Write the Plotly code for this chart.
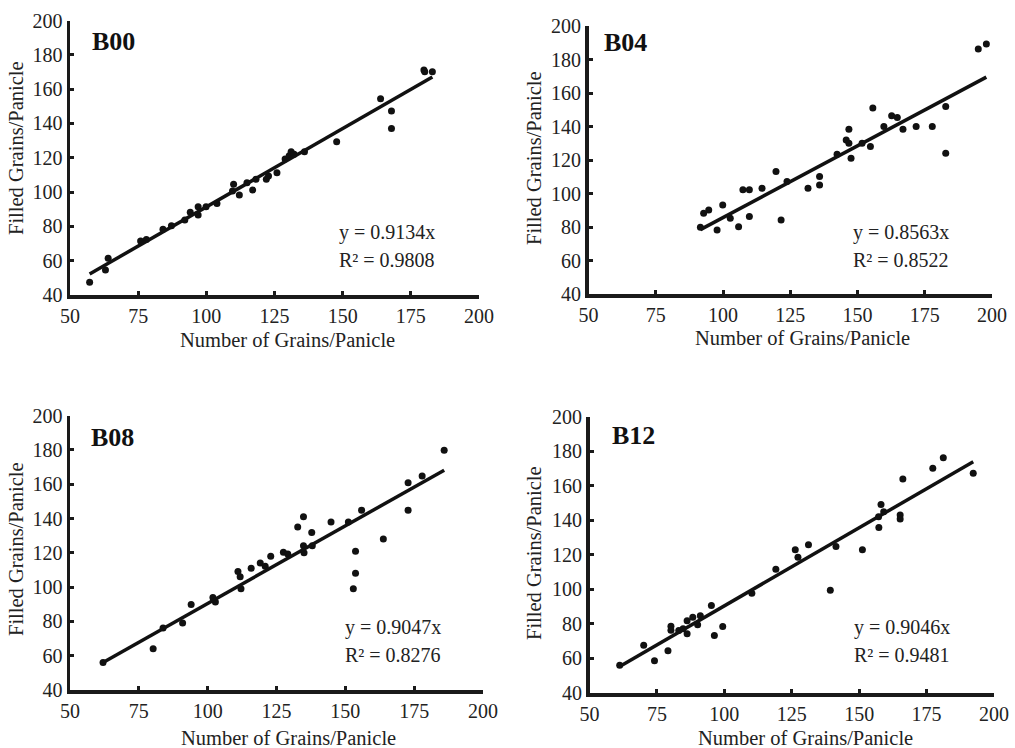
import plotly.graph_objects as go

# ---------------- data ----------------
b00_x = [57.2, 63.0, 64.0, 75.9, 78.0, 84.1, 87.2, 92.1, 94.1, 97.0, 97.0, 99.9, 103.9,
         109.6, 110.0, 112.1, 114.9, 117.0, 118.2, 122.0, 122.8, 125.9, 128.9, 130.4,
         131.1, 132.2, 136.0, 147.8, 163.9, 167.9, 167.9, 179.8, 180.1, 182.9]
b00_y = [47.4, 54.6, 61.4, 71.5, 72.4, 78.3, 80.4, 83.7, 88.3, 91.5, 86.6, 91.5, 93.4,
         100.6, 104.5, 98.3, 105.4, 101.2, 107.4, 107.4, 109.3, 111.3, 119.2, 121.2,
         123.5, 122.1, 123.5, 129.3, 154.4, 147.2, 137.1, 171.1, 170.1, 170.1]

b04_x = [91.6, 92.8, 94.7, 97.8, 99.9, 102.7, 105.8, 107.4, 109.8, 109.8, 114.5, 119.7,
         121.6, 123.8, 131.6, 135.9, 135.9, 142.4, 145.8, 146.8, 146.8, 147.6, 151.7,
         154.8, 155.7, 159.8, 162.7, 164.8, 166.9, 171.8, 177.8, 182.8, 182.8, 194.9, 197.9]
b04_y = [79.8, 88.2, 90.2, 78.2, 93.2, 85.2, 80.2, 102.2, 102.2, 86.2, 103.1, 113.1,
         84.2, 107.1, 103.1, 110.1, 105.1, 123.5, 132.0, 138.4, 130.0, 121.1, 130.0,
         128.0, 151.0, 140.0, 146.4, 145.4, 138.4, 140.0, 140.0, 152.0, 124.1, 186.2, 189.2]

b08_x = [62.0, 80.2, 83.8, 90.9, 94.0, 101.9, 102.8, 111.0, 111.8, 112.1, 115.8, 119.1,
         120.9, 122.9, 127.5, 129.1, 132.7, 134.8, 134.8, 135.0, 137.8, 138.0, 144.8,
         151.1, 152.9, 153.7, 153.7, 155.9, 163.8, 172.8, 172.8, 177.9, 185.9]
b08_y = [56.1, 64.0, 76.2, 79.1, 89.9, 94.0, 91.3, 109.1, 106.0, 99.0, 111.0, 114.1,
         112.1, 118.0, 120.3, 119.3, 135.0, 141.0, 124.1, 120.1, 131.9, 124.1, 137.9,
         137.9, 99.0, 108.1, 120.9, 144.8, 128.0, 160.9, 144.8, 164.8, 179.8]

b12_x = [61.2, 70.1, 74.1, 79.1, 80.2, 80.2, 83.1, 84.7, 86.2, 86.2, 88.3, 90.1, 91.1,
         95.2, 96.3, 99.4, 110.2, 119.1, 126.3, 127.3, 131.2, 139.3, 141.4, 151.2,
         157.2, 157.3, 158.1, 159.1, 165.2, 165.2, 166.2, 177.3, 181.2, 192.3]
b12_y = [56.0, 67.6, 58.7, 64.5, 78.7, 76.4, 76.2, 77.2, 81.8, 74.3, 83.9, 79.5, 84.7,
         90.7, 73.3, 78.5, 97.8, 111.7, 122.9, 118.6, 125.9, 99.5, 124.8, 122.9,
         142.1, 135.8, 149.1, 145.0, 143.1, 140.8, 163.9, 170.1, 176.2, 167.2]

panel_names = ["B00", "B04", "B08", "B12"]
slopes = [0.9134, 0.8563, 0.9047, 0.9046]
r2_values = ["0.9808", "0.8522", "0.8276", "0.9481"]
x_ticks = [50, 75, 100, 125, 150, 175, 200]
y_ticks = [40, 60, 80, 100, 120, 140, 160, 180, 200]
x_title = "Number of Grains/Panicle"
y_title = "Filled Grains/Panicle"

series = [(b00_x, b00_y), (b04_x, b04_y), (b08_x, b08_y), (b12_x, b12_y)]

# ---------------- layout geometry (pixels) ----------------
W, H = 1015, 748
# (x_left, x_right, y_top(200), y_bottom(40)) in pixels
boxes = [(70, 479, 20.5, 295), (588.5, 992, 26, 294), (70, 483, 415.6, 690), (589.5, 994, 416.7, 693)]
title_pos = [(57.3, 187.7), (55.2, 189.9), (56.9, 187.0), (57.5, 189.4)]
eq_pos = [(184.5, 76.6, 60.3), (184.9, 77.0, 60.3), (185.5, 76.7, 60.4), (184.5, 78.2, 62.0)]
ytitle_px = [(16, 148), (534, 158), (16, 549), (534, 553)]
xtitle_px = [(287, 340), (802, 338), (288, 738), (805, 738)]

FONT = "Liberation Serif, Times New Roman, serif"
TXT = "#222222"

fig = go.Figure()
annotations = []
for i, ((xs, ys), (xl, xr, yt, yb)) in enumerate(zip(series, boxes)):
    n = "" if i == 0 else str(i + 1)
    xa, ya = "x" + n, "y" + n
    fig.add_trace(go.Scatter(x=xs, y=ys, mode="markers", xaxis=xa, yaxis=ya,
                             marker=dict(size=7, color="#111111"), showlegend=False))
    lx = [min(xs), max(xs)]
    fig.add_trace(go.Scatter(x=lx, y=[slopes[i] * v for v in lx], mode="lines",
                             xaxis=xa, yaxis=ya, line=dict(color="#111111", width=3.5),
                             showlegend=False))
    common = dict(showline=True, linecolor="#1a1a1a", linewidth=3.5, ticks="inside",
                  ticklen=4, tickwidth=3, tickcolor="#1a1a1a", showgrid=False, zeroline=False,
                  automargin=False,
                  tickfont=dict(family=FONT, size=20, color=TXT))
    fig.update_layout(**{
        "xaxis" + n: dict(domain=[xl / W, xr / W], range=[50, 200], tickvals=x_ticks,
                          anchor=ya, **common),
        "yaxis" + n: dict(domain=[1 - yb / H, 1 - yt / H], range=[40, 200], tickvals=y_ticks,
                          anchor=xa, **common),
    })
    tx, ty = title_pos[i]
    annotations.append(dict(x=tx, y=ty, xref=xa, yref=ya, text="<b>" + panel_names[i] + "</b>",
                            showarrow=False, xanchor="left", yanchor="middle",
                            font=dict(family=FONT, size=26, color="#111111")))
    ex, ey1, ey2 = eq_pos[i]
    annotations.append(dict(x=ex, y=ey1, xref=xa, yref=ya, text="y = %.4fx" % slopes[i],
                            showarrow=False, xanchor="right", yanchor="middle",
                            font=dict(family=FONT, size=20, color=TXT)))
    annotations.append(dict(x=ex, y=ey2, xref=xa, yref=ya, text="R² = " + r2_values[i],
                            showarrow=False, xanchor="right", yanchor="middle",
                            font=dict(family=FONT, size=20, color=TXT)))
    px_, py_ = ytitle_px[i]
    annotations.append(dict(x=px_ / W, y=1 - py_ / H, xref="paper", yref="paper", text=y_title,
                            textangle=-90, showarrow=False, xanchor="center", yanchor="middle",
                            font=dict(family=FONT, size=20.5, color=TXT)))
    qx, qy = xtitle_px[i]
    annotations.append(dict(x=qx / W, y=1 - qy / H, xref="paper", yref="paper", text=x_title,
                            showarrow=False, xanchor="center", yanchor="middle",
                            font=dict(family=FONT, size=20.5, color=TXT)))

fig.update_layout(width=W, height=H, margin=dict(l=0, r=0, t=0, b=0, autoexpand=False),
                  paper_bgcolor="white", plot_bgcolor="white", annotations=annotations)
fig.write_html("out.html", config={"displayModeBar": False, "staticPlot": True},
               post_script="document.body.style.margin='0';document.body.style.overflow='hidden';")
